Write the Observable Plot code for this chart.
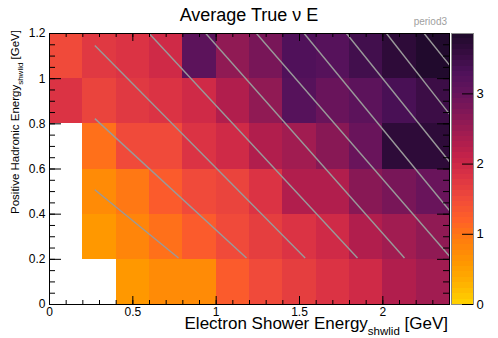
<!DOCTYPE html>
<html>
<head>
<meta charset="utf-8">
<script src="https://cdn.jsdelivr.net/npm/d3@7"></script>
<script src="https://cdn.jsdelivr.net/npm/@observablehq/plot@0.6"></script>
<style>
  body { margin: 0; background: #fff; }
  #chart { position: relative; width: 498px; height: 338px; background: #fff; font-family: "Liberation Sans", Arial, sans-serif; }
  #chart svg { position: absolute; top: 0; }
</style>
</head>
<body>
<div id="chart"></div>
<script>
// ---- data ----
const xEdges = [0, 0.2, 0.4, 0.6, 0.8, 1.0, 1.2, 1.4, 1.6, 1.8, 2.0, 2.2, 2.4];
const yEdges = [0, 0.2, 0.4, 0.6, 0.8, 1.0, 1.2];
// average true nu E per bin, rows from y=0 upward (null = empty bin)
const rowY0 = [null, null, 0.55, 0.7, 0.75, 1.3, 1.5, 1.65, 1.8, 2.0, 2.25, 2.45];
const rowY1 = [null, 0.55, 0.8, 1.05, 1.25, 1.5, 1.65, 1.8, 2.0, 2.25, 2.45, 2.6];
const rowY2 = [null, 0.75, 1.0, 1.25, 1.5, 1.6, 1.8, 2.25, 2.3, 2.65, 2.8, 2.95];
const rowY3 = [null, 1.05, 1.5, 1.5, 1.8, 2.0, 2.25, 2.45, 2.65, 2.95, 3.7, 3.7];
const rowY4 = [1.8, 1.55, 1.7, 1.85, 1.95, 2.25, 2.6, 3.2, 2.95, 3.15, 3.35, 3.5];
const rowY5 = [1.5, 1.7, 1.8, 2.0, 3.1, 2.6, 2.8, 3.3, 3.2, 3.45, 3.65, 3.85];
// gray guide lines (endpoints in data units)
const lineX1 = [0.272, 0.272, 0.272, 0.598, 0.938, 1.242, 1.528, 1.782, 2.022, 2.248];
const lineY1 = [0.508, 0.823, 1.147, 1.2, 1.2, 1.2, 1.2, 1.2, 1.2, 1.2];
const lineX2 = [0.774, 1.182, 1.534, 1.848, 2.13, 2.4, 2.4, 2.4, 2.4, 2.4];
const lineY2 = [0.206, 0.206, 0.206, 0.206, 0.206, 0.214, 0.416, 0.632, 0.843, 1.06];
// ticks
const xMajor = [0, 0.5, 1, 1.5, 2];
const yMajor = [0, 0.2, 0.4, 0.6, 0.8, 1, 1.2];
const zTicks = [0, 1, 2, 3];
const zMax = 3.86;
const nBands = 50;
// palette stops
const stopV = [0, 0.3, 0.6, 0.9, 1.2, 1.5, 1.8, 2.1, 2.4, 2.7, 3.0, 3.3, 3.6, 3.86];
const stopC = ["#ffd400", "#ffb000", "#ff9600", "#ff7e0e", "#ff6028", "#f04a3a", "#dc3444",
               "#c42249", "#a41c50", "#841856", "#66145c", "#4e115a", "#340c3e", "#1e0a2a"];

// ---- build ----
const rows = [rowY0, rowY1, rowY2, rowY3, rowY4, rowY5];
const cells = [];
rows.forEach((r, j) => r.forEach((v, i) => {
  if (v != null) cells.push({x1: xEdges[i], x2: xEdges[i + 1], y1: yEdges[j], y2: yEdges[j + 1], v});
}));
const lines = lineX1.map((d, i) => ({x1: d, y1: lineY1[i], x2: lineX2[i], y2: lineY2[i]}));

const step = zMax / nBands;
const thresholds = d3.range(1, nBands).map(k => k * step);
const interp = d3.scaleLinear().domain(stopV).range(stopC).interpolate(d3.interpolateRgb).clamp(true);
const bandColors = d3.range(nBands).map(k => interp((k + 0.5) * step));
const colorScale = {type: "threshold", domain: thresholds, range: bandColors};

const W = 498, H = 338, mL = 49, mR = 49, mT = 33, mB = 34;
const FW = W - mL - mR, FH = H - mT - mB;
const xMinor = d3.range(0, 25).map(i => i / 10);
const yMinor = d3.range(0, 25).map(i => i / 20);
const font = "Liberation Sans, Arial, sans-serif";

const main = Plot.plot({
  width: W, height: H,
  marginLeft: mL, marginRight: mR, marginTop: mT, marginBottom: mB,
  style: {fontFamily: font, fontSize: "12px", background: "transparent"},
  x: {domain: [0, 2.4], label: null},
  y: {domain: [0, 1.2], label: null},
  color: colorScale,
  marks: [
    Plot.rect(cells, {x1: "x1", x2: "x2", y1: "y1", y2: "y2", fill: "v", shapeRendering: "crispEdges"}),
    Plot.link(lines, {x1: "x1", y1: "y1", x2: "x2", y2: "y2", stroke: "#9a9a9a", strokeWidth: 1.4}),
    Plot.ruleX(xMinor, {x: d => d, insetTop: FH - 4, stroke: "black"}),
    Plot.ruleX(xMajor, {x: d => d, insetTop: FH - 8, stroke: "black"}),
    Plot.ruleX(xMinor, {x: d => d, insetBottom: FH - 4, stroke: "black"}),
    Plot.ruleX(xMajor, {x: d => d, insetBottom: FH - 8, stroke: "black"}),
    Plot.ruleY(yMinor, {y: d => d, insetRight: FW - 6, stroke: "black"}),
    Plot.ruleY(yMajor, {y: d => d, insetRight: FW - 12, stroke: "black"}),
    Plot.ruleY(yMinor, {y: d => d, insetLeft: FW - 6, stroke: "black"}),
    Plot.ruleY(yMajor, {y: d => d, insetLeft: FW - 12, stroke: "black"}),
    Plot.frame({stroke: "black", strokeWidth: 1}),
    Plot.axisX(xMajor, {anchor: "bottom", tickSize: 0, tickPadding: 3, tickFormat: d => String(d), fontSize: 12}),
    Plot.axisY(yMajor, {anchor: "left", tickSize: 0, tickPadding: 4, tickFormat: d => String(d), fontSize: 12})
  ]
});
main.style.left = "0px";

const bands = d3.range(nBands).map(k => ({lo: k * step, hi: (k + 1) * step, mid: (k + 0.5) * step}));
const cbW = 49;
const cbar = Plot.plot({
  width: cbW, height: H,
  marginLeft: 2, marginRight: 25, marginTop: mT, marginBottom: mB,
  style: {fontFamily: font, fontSize: "13px", background: "transparent", overflow: "visible"},
  x: {domain: [0, 1], axis: null},
  y: {domain: [0, zMax], label: null},
  color: colorScale,
  marks: [
    Plot.rect(bands, {x1: d => 0, x2: d => 1, y1: "lo", y2: "hi", fill: "mid", shapeRendering: "crispEdges"}),
    Plot.frame({stroke: "#8a8a8a", strokeWidth: 1}),
    Plot.ruleY(zTicks, {y: d => d, insetLeft: 11, stroke: "black"}),
    Plot.axisY(zTicks, {anchor: "right", tickSize: 0, tickPadding: 3, tickFormat: d => String(d), fontSize: 13})
  ]
});
cbar.style.left = (W - mR) + "px";

const chart = document.getElementById("chart");
chart.appendChild(main);
chart.appendChild(cbar);

// ---- titles (text overlay) ----
const ns = "http://www.w3.org/2000/svg";
const ov = document.createElementNS(ns, "svg");
ov.setAttribute("width", W); ov.setAttribute("height", H);
ov.style.left = "0px"; ov.style.pointerEvents = "none";
ov.setAttribute("font-family", font);
function txt(attrs, parts) {
  const t = document.createElementNS(ns, "text");
  for (const k in attrs) t.setAttribute(k, attrs[k]);
  parts.forEach(p => {
    const s = document.createElementNS(ns, "tspan");
    s.textContent = p.t;
    if (p.size) s.setAttribute("font-size", p.size);
    if (p.dy) s.setAttribute("dy", p.dy);
    t.appendChild(s);
  });
  ov.appendChild(t);
}
txt({x: 249, y: 21, "text-anchor": "middle", "font-size": 18, fill: "black"}, [{t: "Average True \u03bd E"}]);
txt({x: 447, y: 25, "text-anchor": "end", "font-size": 10, fill: "#a0a0a0"}, [{t: "period3"}]);
txt({x: 448, y: 329, "text-anchor": "end", "font-size": 17, fill: "black"},
    [{t: "Electron Shower Energy"}, {t: "shwlid", size: 11.5, dy: 6}, {t: "\u00a0[GeV]", dy: -6}]);
txt({transform: "translate(19,30) rotate(-90)", "text-anchor": "end", "font-size": 11.5, fill: "black"},
    [{t: "Positive Hadronic Energy"}, {t: "shwlid", size: 8, dy: 4}, {t: "\u00a0[GeV]", dy: -4}]);
chart.appendChild(ov);
</script>
</body>
</html>
